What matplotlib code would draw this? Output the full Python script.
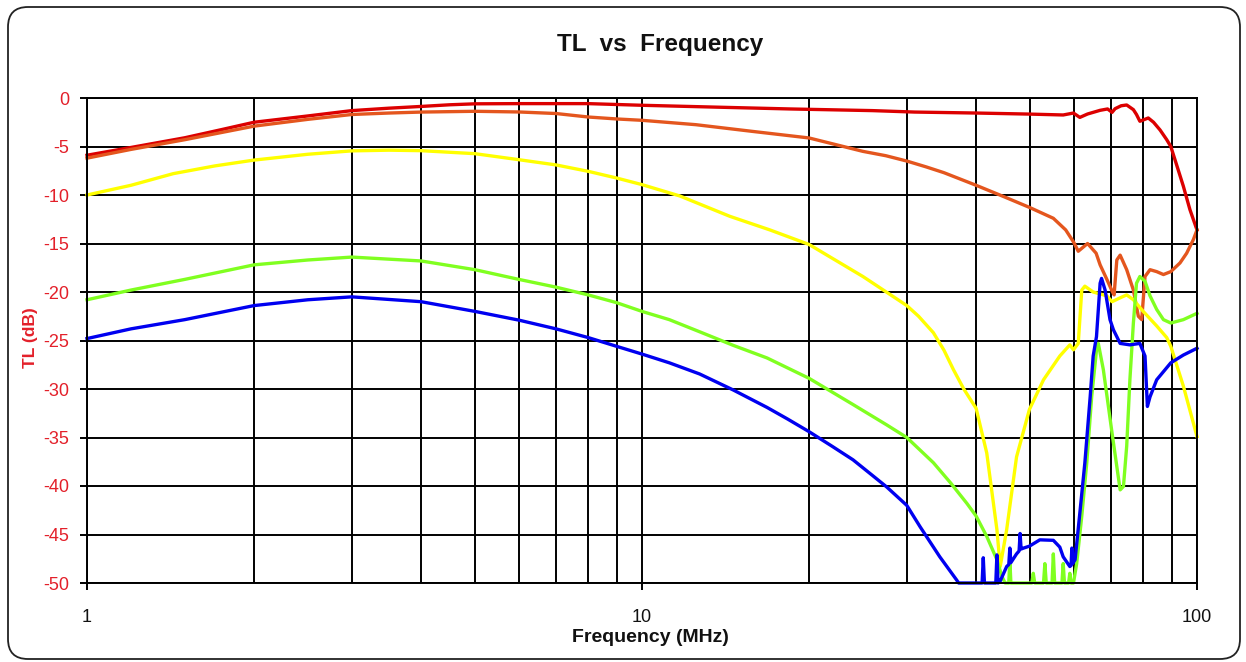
import matplotlib
matplotlib.use("Agg")
import matplotlib.pyplot as plt
from matplotlib.patches import FancyBboxPatch
from matplotlib.ticker import FixedLocator, NullFormatter

plt.rcParams['font.family'] = ['Liberation Sans', 'DejaVu Sans']
plt.rcParams['axes.unicode_minus'] = False

# ---------------- data ----------------
title = "TL  vs  Frequency"
x_label = "Frequency (MHz)"
y_label = "TL (dB)"
x_ticks = [1, 10, 100]
x_tick_labels = ["1", "10", "100"]
y_ticks = [-50, -45, -40, -35, -30, -25, -20, -15, -10, -5, 0]

f_red = [1, 1.2, 1.5, 1.75, 2, 2.5, 3, 3.5, 4, 4.5, 5, 6, 8, 10, 14, 18.5, 26, 31, 40, 50,
         57.4, 59.9, 61.5, 63.5, 66.9, 69.0, 70.3, 71.2, 73.0, 74.7, 76.8, 77.8, 78.9, 81.7,
         83.5, 85.8, 88.2, 89.7, 91.9, 94.5, 97.1, 100]
v_red = [-5.9, -5.1, -4.1, -3.25, -2.5, -1.85, -1.3, -1.05, -0.87, -0.7, -0.6, -0.58, -0.58,
         -0.75, -0.96, -1.13, -1.3, -1.45, -1.55, -1.66, -1.75, -1.55, -2.0, -1.65, -1.27,
         -1.13, -1.48, -1.1, -0.8, -0.72, -1.2, -1.7, -2.4, -2.06, -2.5, -3.3, -4.3, -5.0,
         -6.9, -9.1, -11.5, -13.6]

f_orange = [1, 1.2, 1.5, 1.75, 2, 2.5, 3, 3.5, 4, 5, 6, 7, 8, 9, 10, 12.5, 15.8, 20, 25,
            27.5, 30, 32.5, 35, 40, 45, 50, 55.1, 58.0, 60.0, 61.1, 63.5, 65.8, 66.9, 68.8,
            70.3, 70.9, 71.7, 72.7, 74.7, 76.8, 78.4, 79.5, 80.6, 82.3, 84.6, 87.0, 89.7, 93.2,
            95.8, 98.5, 100]
v_orange = [-6.2, -5.3, -4.3, -3.55, -2.9, -2.2, -1.7, -1.55, -1.45, -1.37, -1.44, -1.6,
            -1.96, -2.16, -2.3, -2.75, -3.44, -4.12, -5.5, -5.95, -6.5, -7.1, -7.7, -9.0,
            -10.2, -11.3, -12.4, -13.6, -14.9, -15.8, -15.0, -16.0, -17.2, -18.7, -19.9, -20.3,
            -16.7, -16.2, -17.7, -19.8, -22.5, -22.85, -18.4, -17.7, -17.9, -18.2, -17.9, -17.0,
            -16.0, -14.6, -13.6]

f_yellow = [1, 1.2, 1.43, 1.7, 2, 2.5, 3, 3.5, 4, 5, 6, 7, 8, 9, 10, 11.7, 14.4, 17, 20, 25,
            30, 31.5, 33.5, 35, 36.4, 38, 40.0, 41.8, 43.6, 44.2, 45.4, 47.3, 49.9, 52.9, 56.6,
            59.0, 59.9, 61.1, 62.0, 62.8, 65.0, 68.8, 70.3, 72.7, 74.7, 76.8, 80.0, 84.6, 88.2,
            89.7, 94.5, 100]
v_yellow = [-10.0, -9.0, -7.8, -7.0, -6.4, -5.8, -5.45, -5.38, -5.43, -5.74, -6.36, -6.9,
            -7.56, -8.25, -8.93, -10.1, -12.2, -13.6, -15.1, -18.4, -21.4, -22.5, -24.2, -26.0,
            -28.0, -30.0, -32.0, -36.6, -44.5, -48.3, -44.5, -37.0, -32.1, -29.05, -26.6,
            -25.45, -25.96, -25.3, -19.8, -19.4, -20.0, -20.4, -21.0, -20.6, -20.3, -20.8,
            -22.0, -23.5, -24.7, -25.6, -29.7, -34.9]

f_green = [1, 1.2, 1.5, 2, 2.5, 3, 4, 5, 6, 7, 8, 9, 10, 11.2, 12.7, 14.6, 16.8, 20, 24, 27.6,
           30, 33.5, 36, 38.5, 40.0, 41.8, 43.6, 44.5, 45.1, 45.8, 46.0, 46.2, 50.4, 50.7,
           51.0, 52.9, 53.2, 53.5, 54.8, 55.1, 55.4, 57.1, 57.4, 57.7, 58.7, 59.0, 59.3, 59.9,
           60.7, 62.0, 63.3, 64.6, 65.9, 66.4, 67.8, 70.3, 72.7, 73.7, 74.7, 75.7, 76.8, 77.8,
           78.9, 80.6, 82.3, 84.6, 87.0, 89.7, 94.5, 100]
v_green = [-20.8, -19.8, -18.7, -17.2, -16.7, -16.4, -16.8, -17.7, -18.7, -19.5, -20.3,
           -21.1, -22.0, -22.85, -24.1, -25.5, -26.8, -28.9, -31.6, -33.7, -35.0, -37.6,
           -39.7, -41.8, -43.1, -45.2, -47.6, -49.3, -50, -50, -47.6, -50, -50, -49.0, -50,
           -50, -48.0, -50, -50, -47.0, -50, -50, -48.0, -50, -50, -49.0, -50, -50, -48.0,
           -43.1, -37.6, -30.8, -26.0, -25.3, -28.0, -34.55, -40.4, -40.05, -35.9, -29.05,
           -23.2, -19.1, -18.4, -18.9, -20.4, -21.8, -22.85, -23.2, -22.85, -22.2]

f_blue = [1, 1.2, 1.5, 2, 2.5, 3, 4, 5, 6, 7, 8, 9, 10, 11.2, 12.7, 14.6, 16.8, 18.3, 20, 22,
          24, 26, 27.6, 30, 31.7, 34.4, 36.9, 37.2, 41.0, 41.2, 41.4, 43.4, 43.6, 43.8, 44.2,
          45.4, 45.8, 46.0, 46.2, 47.3, 47.8, 48.0, 48.2, 48.7, 49.9, 52.1, 55.1, 56.6, 57.4,
          59.0, 59.3, 59.5, 59.7, 60.3, 61.5, 62.8, 64.2, 65.0, 65.9, 66.9, 67.3, 68.3, 69.7,
          70.7, 72.7, 75.7, 78.9, 80.6, 81.4, 82.3, 84.6, 89.7, 94.5, 100]
v_blue = [-24.8, -23.8, -22.85, -21.4, -20.8, -20.5, -21.0, -22.0, -22.9, -23.8, -24.7,
          -25.6, -26.4, -27.3, -28.45, -30.1, -31.9, -33.1, -34.4, -35.9, -37.3, -38.9, -40.1,
          -42.0, -44.2, -47.3, -49.7, -50, -50, -47.4, -50, -50, -47.1, -50, -49.8, -48.3,
          -48.1, -46.4, -47.9, -47.0, -46.7, -44.9, -46.5, -46.4, -46.2, -45.55, -45.6, -46.3,
          -47.3, -48.3, -48.2, -46.4, -48.0, -47.6, -42.8, -37.6, -30.8, -26.6, -24.6, -19.1,
          -18.6, -19.8, -22.85, -23.9, -25.3, -25.45, -25.3, -26.6, -31.8, -30.8, -29.05,
          -27.3, -26.5, -25.8]

series = [
    (f_red, v_red, '#dc0000'),
    (f_orange, v_orange, '#e4561e'),
    (f_yellow, v_yellow, '#ffff00'),
    (f_green, v_green, '#80ff20'),
    (f_blue, v_blue, '#0000f0'),
]

# ---------------- figure ----------------
W, H = 1246, 662
fig = plt.figure(figsize=(W / 100, H / 100), dpi=100)
fig.patch.set_facecolor('white')

border = FancyBboxPatch((0.08, 0.03), 12.32, 6.52,
                        boxstyle="round,pad=0,rounding_size=0.2",
                        transform=fig.dpi_scale_trans, fill=False,
                        edgecolor='#222222', linewidth=1.3)
fig.add_artist(border)

ax = fig.add_axes([87 / W, 1 - 583 / H, 1110 / W, 485 / H])
ax.set_xscale('log')
ax.set_xlim(1, 100)
ax.set_ylim(-50, 0)

ax.xaxis.set_major_locator(FixedLocator(x_ticks))
ax.xaxis.set_minor_locator(FixedLocator([m * d for d in (1, 10) for m in range(2, 10)]))
ax.xaxis.set_minor_formatter(NullFormatter())
ax.set_xticklabels(x_tick_labels)
ax.set_yticks(y_ticks)
ax.set_yticklabels([str(t) for t in y_ticks])

ax.set_axisbelow(True)
ax.grid(True, which='both', axis='both', color='black', linewidth=1.4)
ax.tick_params(axis='x', which='minor', length=0)
ax.tick_params(axis='x', which='major', length=5, width=1.4, pad=14, labelsize=13,
               color='black', labelcolor='#111111')
ax.tick_params(axis='y', length=5, width=1.4, pad=8, labelsize=13, color='black',
               labelcolor='#e3202a')
for s in ax.spines.values():
    s.set_color('black')
    s.set_linewidth(1.4)

for fx, fy, col in series:
    ax.plot(fx, fy, color=col, linewidth=2.4, clip_on=False, solid_joinstyle='round')

fig.text(660 / W, 1 - 45 / H, title, ha='center', va='center',
         fontsize=17.5, fontweight='bold', color='#111111')
fig.text(650 / W, 1 - 637 / H, x_label, ha='center', va='center',
         fontsize=14, fontweight='bold', color='#111111')
fig.text(31 / W, 1 - 338 / H, y_label, ha='center', va='center', rotation=90,
         fontsize=12.5, fontweight='bold', color='#e3202a')

fig.savefig('out.png', dpi=100, facecolor='white')
